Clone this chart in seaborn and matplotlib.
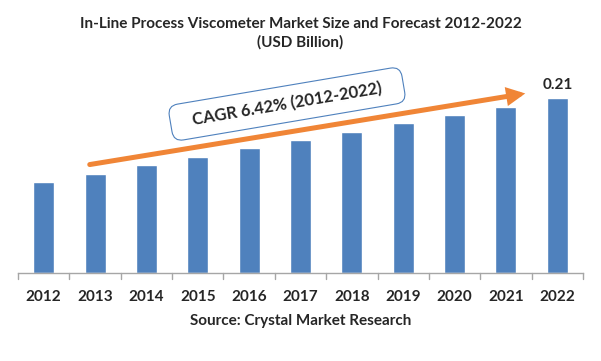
import numpy as np
import seaborn as sns
import matplotlib.pyplot as plt
import pandas as pd
from matplotlib.patches import FancyArrowPatch

years = ["2012", "2013", "2014", "2015", "2016", "2017", "2018", "2019", "2020", "2021", "2022"]
market_size = [0.109, 0.119, 0.130, 0.139, 0.150, 0.160, 0.169, 0.180, 0.190, 0.199, 0.21]
title = "In-Line Process Viscometer Market Size and Forecast 2012-2022\n(USD Billion)"
cagr_text = "   CAGR 6.42% (2012-2022)   "
source_text = "Source: Crystal Market Research"

sns.set_style("white")
plt.rcParams['font.family'] = ['Lato', 'DejaVu Sans']

df = pd.DataFrame({"year": years, "size": market_size})

fig = plt.figure(figsize=(6.01, 3.61), dpi=100)
ax = fig.add_axes([18 / 601, 1 - 273 / 361, 565 / 601, 208 / 361])

sns.barplot(data=df, x="year", y="size", color="#4F81BD", saturation=1, width=0.41, ax=ax)
ax.set_ylim(0, 0.25)
ax.set_xlim(-0.5, len(years) - 0.5)
ax.set_yticks([])
ax.set_xlabel("")
ax.set_ylabel("")
for s in ["top", "right", "left"]:
    ax.spines[s].set_visible(False)
ax.spines["bottom"].set_color("#A6A6A6")
ax.spines["bottom"].set_linewidth(1)

# tick marks between categories
ax.set_xticks(np.arange(len(years)))
ax.set_xticklabels(years, fontsize=11, fontweight="bold")
ax.tick_params(axis="x", length=0, pad=12)
for b in np.arange(-0.5, len(years), 1.0):
    ax.plot([b, b], [0, -0.0072], color="#A6A6A6", lw=1, clip_on=False)

# label last bar
ax.text(len(years) - 1, market_size[-1] + 0.0075, f"{market_size[-1]:.2f}",
        ha="center", va="bottom", fontsize=11, fontweight="bold")

fig.text(0.5, 1 - 33 / 361, title, ha="center", va="center", fontsize=11, fontweight="bold", linespacing=1.35)
fig.text(0.5, 1 - 321 / 361, source_text, ha="center", va="center", fontsize=11, fontweight="bold")

# CAGR arrow
fig.add_artist(FancyArrowPatch(
    (87 / 601, 1 - 165 / 361), (528 / 601, 1 - 93 / 361),
    transform=fig.transFigure, arrowstyle="-|>,head_length=8,head_width=4",
    mutation_scale=1, color="#F08536", lw=3.6, joinstyle="miter"))

fig.text(287 / 601, 1 - 104 / 361, cagr_text, ha="center", va="center", rotation=9.6,
         fontsize=12, fontweight="bold",
         bbox=dict(boxstyle="round,pad=0.6,rounding_size=0.6", fc="white", ec="#4F81BD", lw=0.8))

fig.savefig("out.png", dpi=100)
